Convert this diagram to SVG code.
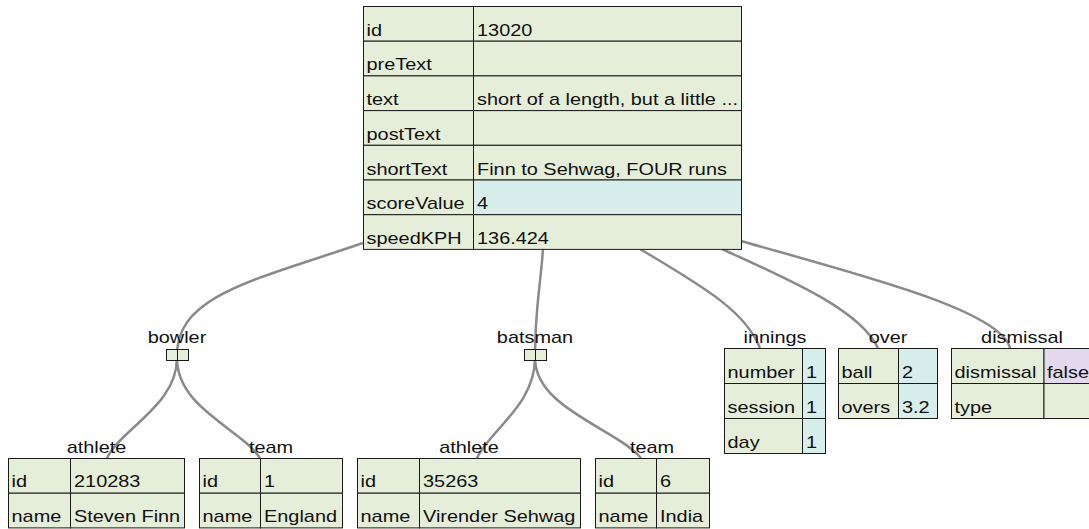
<svg xmlns="http://www.w3.org/2000/svg" width="1089" height="529" viewBox="0 0 1089 529">
<style>
.bg{fill:#ffffff}
.g{fill:#e5eed9;stroke:#1a1a1a;stroke-width:1}
.b{fill:#d7eeec;stroke:#1a1a1a;stroke-width:1}
.p{fill:#e3daef;stroke:#1a1a1a;stroke-width:1}
.t{font-family:"Liberation Sans",Arial,Helvetica,sans-serif;font-size:16px;fill:#111111}
.m{text-anchor:middle}
.link{fill:none;stroke:#8a8a8a;stroke-width:2.5}
</style>
<rect class="bg" x="0" y="0" width="1089" height="529"/>

<g id="connectors">
  <path class="link" d="M363,243 C255,280 177,295 177,355"/>
  <path class="link" d="M177,358 C177,405 122,428 107,458"/>
  <path class="link" d="M177,358 C177,408 240,428 260,458"/>
  <path class="link" d="M543,249 C540,290 535,310 535,355"/>
  <path class="link" d="M535,358 C535,405 490,430 477,458"/>
  <path class="link" d="M535,358 C535,408 615,428 641,458"/>
  <path class="link" d="M640,249 C700,285 745,310 760,348"/>
  <path class="link" d="M722,249 C790,280 860,310 878,348"/>
  <path class="link" d="M741,241 C860,275 1000,310 1010,348"/>
</g>

<g id="node-delivery">
  <rect class="g" x="363.5" y="6.5" width="110" height="34.7"/>
  <rect class="g" x="473.5" y="6.5" width="268" height="34.7"/>
  <rect class="g" x="363.5" y="41.2" width="110" height="34.7"/>
  <rect class="g" x="473.5" y="41.2" width="268" height="34.7"/>
  <rect class="g" x="363.5" y="75.9" width="110" height="34.7"/>
  <rect class="g" x="473.5" y="75.9" width="268" height="34.7"/>
  <rect class="g" x="363.5" y="110.6" width="110" height="34.7"/>
  <rect class="g" x="473.5" y="110.6" width="268" height="34.7"/>
  <rect class="g" x="363.5" y="145.3" width="110" height="34.7"/>
  <rect class="g" x="473.5" y="145.3" width="268" height="34.7"/>
  <rect class="g" x="363.5" y="180" width="110" height="34.7"/>
  <rect class="b" x="473.5" y="180" width="268" height="34.7"/>
  <rect class="g" x="363.5" y="214.7" width="110" height="34.7"/>
  <rect class="g" x="473.5" y="214.7" width="268" height="34.7"/>
  <text class="t" transform="translate(366.5 35.7) scale(1.245 1)">id</text>
  <text class="t" transform="translate(477 35.7) scale(1.245 1)">13020</text>
  <text class="t" transform="translate(366.5 70.4) scale(1.245 1)">preText</text>
  <text class="t" transform="translate(366.5 105.1) scale(1.245 1)">text</text>
  <text class="t" transform="translate(477 105.1) scale(1.245 1)">short of a length, but a little ...</text>
  <text class="t" transform="translate(366.5 139.8) scale(1.245 1)">postText</text>
  <text class="t" transform="translate(366.5 174.5) scale(1.245 1)">shortText</text>
  <text class="t" transform="translate(477 174.5) scale(1.245 1)">Finn to Sehwag, FOUR runs</text>
  <text class="t" transform="translate(366.5 209.2) scale(1.245 1)">scoreValue</text>
  <text class="t" transform="translate(477 209.2) scale(1.245 1)">4</text>
  <text class="t" transform="translate(366.5 243.9) scale(1.245 1)">speedKPH</text>
  <text class="t" transform="translate(477 243.9) scale(1.245 1)">136.424</text>
</g>

<g id="node-bowler">
  <text class="t m" transform="translate(177 342.5) scale(1.245 1)">bowler</text>
  <rect class="g" x="166.5" y="349.5" width="11" height="11"/>
  <rect class="g" x="177.5" y="349.5" width="11" height="11"/>
</g>

<g id="node-batsman">
  <text class="t m" transform="translate(535 342.5) scale(1.245 1)">batsman</text>
  <rect class="g" x="524.5" y="349.5" width="11" height="11"/>
  <rect class="g" x="535.5" y="349.5" width="11" height="11"/>
</g>

<g id="node-bowler-athlete">
  <text class="t m" transform="translate(96.5 453) scale(1.245 1)">athlete</text>
  <rect class="g" x="8.5" y="458.5" width="62" height="34.7"/>
  <rect class="g" x="70.5" y="458.5" width="114" height="34.7"/>
  <rect class="g" x="8.5" y="493.2" width="62" height="34.7"/>
  <rect class="g" x="70.5" y="493.2" width="114" height="34.7"/>
  <text class="t" transform="translate(11.5 487.2) scale(1.245 1)">id</text>
  <text class="t" transform="translate(74 487.2) scale(1.245 1)">210283</text>
  <text class="t" transform="translate(11.5 522) scale(1.245 1)">name</text>
  <text class="t" transform="translate(74 522) scale(1.245 1)">Steven Finn</text>
</g>

<g id="node-bowler-team">
  <text class="t m" transform="translate(271 453) scale(1.245 1)">team</text>
  <rect class="g" x="199.5" y="458.5" width="61" height="34.7"/>
  <rect class="g" x="260.5" y="458.5" width="82" height="34.7"/>
  <rect class="g" x="199.5" y="493.2" width="61" height="34.7"/>
  <rect class="g" x="260.5" y="493.2" width="82" height="34.7"/>
  <text class="t" transform="translate(202.5 487.2) scale(1.245 1)">id</text>
  <text class="t" transform="translate(264 487.2) scale(1.245 1)">1</text>
  <text class="t" transform="translate(202.5 522) scale(1.245 1)">name</text>
  <text class="t" transform="translate(264 522) scale(1.245 1)">England</text>
</g>

<g id="node-batsman-athlete">
  <text class="t m" transform="translate(469 453) scale(1.245 1)">athlete</text>
  <rect class="g" x="357.5" y="458.5" width="62" height="34.7"/>
  <rect class="g" x="419.5" y="458.5" width="161" height="34.7"/>
  <rect class="g" x="357.5" y="493.2" width="62" height="34.7"/>
  <rect class="g" x="419.5" y="493.2" width="161" height="34.7"/>
  <text class="t" transform="translate(360.5 487.2) scale(1.245 1)">id</text>
  <text class="t" transform="translate(423 487.2) scale(1.245 1)">35263</text>
  <text class="t" transform="translate(360.5 522) scale(1.245 1)">name</text>
  <text class="t" transform="translate(423 522) scale(1.245 1)">Virender Sehwag</text>
</g>

<g id="node-batsman-team">
  <text class="t m" transform="translate(652 453) scale(1.245 1)">team</text>
  <rect class="g" x="595.5" y="458.5" width="61" height="34.7"/>
  <rect class="g" x="656.5" y="458.5" width="53" height="34.7"/>
  <rect class="g" x="595.5" y="493.2" width="61" height="34.7"/>
  <rect class="g" x="656.5" y="493.2" width="53" height="34.7"/>
  <text class="t" transform="translate(598.5 487.2) scale(1.245 1)">id</text>
  <text class="t" transform="translate(660 487.2) scale(1.245 1)">6</text>
  <text class="t" transform="translate(598.5 522) scale(1.245 1)">name</text>
  <text class="t" transform="translate(660 522) scale(1.245 1)">India</text>
</g>

<g id="node-innings">
  <text class="t m" transform="translate(775 342.5) scale(1.245 1)">innings</text>
  <rect class="g" x="724.5" y="348.5" width="78" height="35"/>
  <rect class="b" x="802.5" y="348.5" width="23" height="35"/>
  <rect class="g" x="724.5" y="383.5" width="78" height="35"/>
  <rect class="b" x="802.5" y="383.5" width="23" height="35"/>
  <rect class="g" x="724.5" y="418.5" width="78" height="35"/>
  <rect class="b" x="802.5" y="418.5" width="23" height="35"/>
  <text class="t" transform="translate(727.5 377.7) scale(1.245 1)">number</text>
  <text class="t" transform="translate(806 377.7) scale(1.245 1)">1</text>
  <text class="t" transform="translate(727.5 412.7) scale(1.245 1)">session</text>
  <text class="t" transform="translate(806 412.7) scale(1.245 1)">1</text>
  <text class="t" transform="translate(727.5 447.7) scale(1.245 1)">day</text>
  <text class="t" transform="translate(806 447.7) scale(1.245 1)">1</text>
</g>

<g id="node-over">
  <text class="t m" transform="translate(888 342.5) scale(1.245 1)">over</text>
  <rect class="g" x="838.5" y="348.5" width="60" height="35"/>
  <rect class="b" x="898.5" y="348.5" width="39" height="35"/>
  <rect class="g" x="838.5" y="383.5" width="60" height="35"/>
  <rect class="b" x="898.5" y="383.5" width="39" height="35"/>
  <text class="t" transform="translate(841.5 377.7) scale(1.245 1)">ball</text>
  <text class="t" transform="translate(902 377.7) scale(1.245 1)">2</text>
  <text class="t" transform="translate(841.5 412.7) scale(1.245 1)">overs</text>
  <text class="t" transform="translate(902 412.7) scale(1.245 1)">3.2</text>
</g>

<g id="node-dismissal">
  <text class="t m" transform="translate(1022 342.5) scale(1.245 1)">dismissal</text>
  <rect class="g" x="951.5" y="348.5" width="92.5" height="35"/>
  <rect class="p" x="1044" y="348.5" width="49" height="35"/>
  <rect class="g" x="951.5" y="383.5" width="92.5" height="35"/>
  <rect class="g" x="1044" y="383.5" width="49" height="35"/>
  <text class="t" transform="translate(954.5 377.7) scale(1.245 1)">dismissal</text>
  <text class="t" transform="translate(1047 377.7) scale(1.245 1)">false</text>
  <text class="t" transform="translate(954.5 412.7) scale(1.245 1)">type</text>
</g>
</svg>
